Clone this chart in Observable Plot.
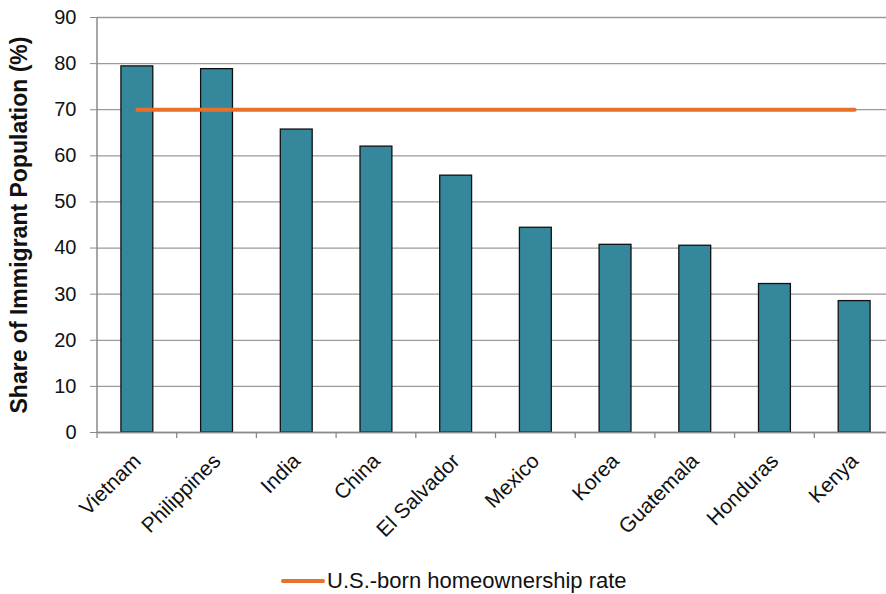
<!DOCTYPE html>
<html>
<head>
<meta charset="utf-8">
<script src="https://cdn.jsdelivr.net/npm/d3@7"></script>
<script src="https://cdn.jsdelivr.net/npm/@observablehq/plot@0.6"></script>
<style>
  html, body { margin: 0; padding: 0; background: #fff; }
  body { width: 886px; height: 594px; overflow: hidden; font-family: "Liberation Sans", Arial, sans-serif; }
  #legend { position: relative; height: 34px; }
  #legend .item { position: absolute; left: 281px; top: 8px; display: flex; align-items: center; font-size: 22px; line-height: 26px; color: #111; }
</style>
</head>
<body>
<div id="chart"></div>
<div id="legend"><div class="item"><svg width="44" height="8"><line x1="2" x2="42" y1="4" y2="4" stroke="#e8702a" stroke-width="4" stroke-linecap="round"/></svg><span id="legend-label" style="margin-left:2px"></span></div></div>
<script>
const countries = ["Vietnam", "Philippines", "India", "China", "El Salvador", "Mexico", "Korea", "Guatemala", "Honduras", "Kenya"];
const shares = [79.4, 78.8, 65.7, 62.0, 55.7, 44.4, 40.7, 40.5, 32.2, 28.5];
const usBornRate = 70;
const yTicks = [0, 10, 20, 30, 40, 50, 60, 70, 80, 90];
const yLabel = "Share of Immigrant Population (%)";
const legendLabel = "U.S.-born homeownership rate";

document.getElementById("legend-label").textContent = legendLabel;

const bars = countries.map((c, i) => ({country: c, share: shares[i]}));
const rateLine = countries.map(c => ({country: c, rate: usBornRate}));

const chart = Plot.plot({
  width: 886,
  height: 560,
  marginLeft: 97,
  marginRight: 0,
  marginTop: 17,
  marginBottom: 128,
  style: {fontFamily: "Liberation Sans, Arial, sans-serif", fontSize: "20px", color: "#111"},
  x: {domain: countries, range: [97, 894], round: false, paddingInner: 0.6, paddingOuter: 0.3, label: null},
  y: {domain: [0, 90], ticks: yTicks, label: null},
  marks: [
    Plot.gridY(yTicks, {stroke: "#9a9a9a", strokeOpacity: 1, strokeWidth: 1.3}),
    Plot.barY(bars, {x: "country", y: "share", fill: "#35879c", stroke: "#111", strokeWidth: 1.3}),
    Plot.ruleY([0], {stroke: "#8a8a8a", strokeWidth: 1.5}),
    Plot.lineY(rateLine, {x: "country", y: "rate", stroke: "#e8702a", strokeWidth: 4, strokeLinecap: "round"}),
    Plot.axisY(yTicks, {tickSize: 7, tickPadding: 14, stroke: "#8a8a8a", fontSize: 20, label: null}),
    Plot.axisX({tickSize: 0, tickRotate: -45, tickPadding: 25, dx: 0, fontSize: 21, label: null}),
    Plot.text([yLabel], {text: d => d, frameAnchor: "left", textAnchor: "middle", rotate: -90, dx: -78, fontSize: 23, fontWeight: "bold", fill: "#111"})
  ]
});
document.getElementById("chart").append(chart);

// y-axis line and x boundary ticks drawn via scales
const svg = d3.select(chart);
const xs = chart.scale("x"), ys = chart.scale("y");
svg.append("line").attr("x1", 97).attr("x2", 97).attr("y1", ys.apply(90)).attr("y2", ys.apply(0))
  .attr("stroke", "#8a8a8a").attr("stroke-width", 1.5);
const bw = 797 / countries.length;
countries.forEach(c => {
  const x0 = xs.apply(c) - (bw - xs.bandwidth) / 2;
  svg.append("line").attr("x1", x0).attr("x2", x0).attr("y1", ys.apply(0)).attr("y2", ys.apply(0) + 6)
    .attr("stroke", "#8a8a8a").attr("stroke-width", 1.3);
});
</script>
</body>
</html>
